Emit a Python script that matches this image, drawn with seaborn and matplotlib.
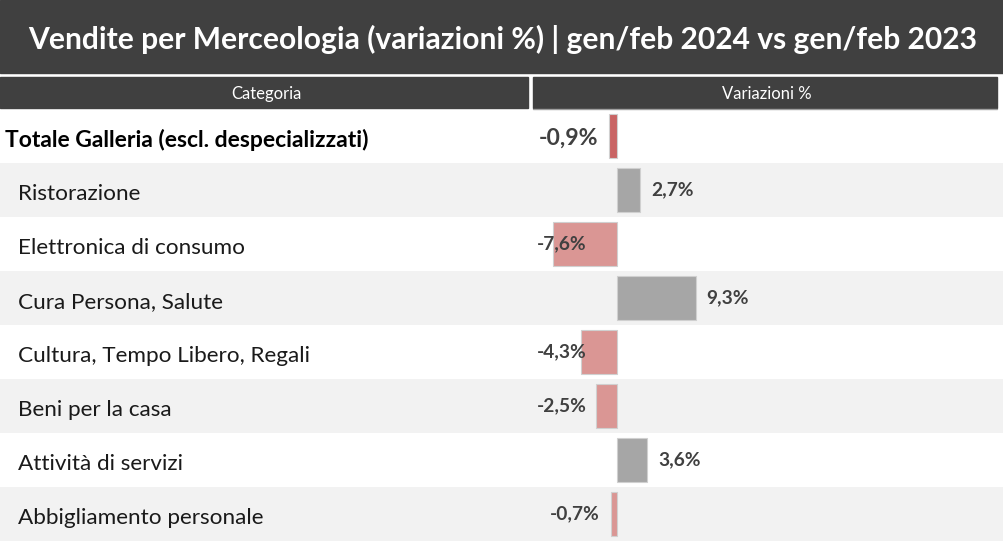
import pandas as pd
import numpy as np
import matplotlib.pyplot as plt
import seaborn as sns
from matplotlib.patches import Rectangle
from matplotlib.transforms import blended_transform_factory

# data
categorie = [
    "Totale Galleria (escl. despecializzati)",
    "Ristorazione",
    "Elettronica di consumo",
    "Cura Persona, Salute",
    "Cultura, Tempo Libero, Regali",
    "Beni per la casa",
    "Attività di servizi",
    "Abbigliamento personale",
]
variazioni = [-0.9, 2.7, -7.6, 9.3, -4.3, -2.5, 3.6, -0.7]
etichette = ["-0,9%", "2,7%", "-7,6%", "9,3%", "-4,3%", "-2,5%", "3,6%", "-0,7%"]

titolo = "Vendite per Merceologia (variazioni %) | gen/feb 2024 vs gen/feb 2023"
intestazioni = ["Categoria", "Variazioni %"]

DARK = "#404040"
ROW_GRAY = "#f2f2f2"
RED_TOT = "#c96464"
RED = "#da9694"
GRAY = "#a6a6a6"

sns.set_theme(style="white")
plt.rcParams["font.family"] = ["Lato", "DejaVu Sans"]

W, H = 1004, 541
fig = plt.figure(figsize=(W / 100, H / 100), dpi=100)
fig.patch.set_facecolor("white")

def px_rect(x0, y0, x1, y1, color):
    # rectangle given in pixel coords from the top left corner
    fig.patches.append(Rectangle((x0 / W, 1 - y1 / H), (x1 - x0) / W, (y1 - y0) / H,
                                 transform=fig.transFigure, color=color, zorder=0))

# title bar
px_rect(0, 0, W, 73, DARK)
fig.text(503 / W, 1 - 39 / H, titolo, color="white", fontsize=21.6,
         fontweight="bold", ha="center", va="center")

# header cells
px_rect(0, 77, 528, 108, DARK)
px_rect(533, 77, 997, 108, DARK)
fig.text(266 / W, 1 - 94 / H, intestazioni[0], color="white", fontsize=12,
         ha="center", va="center")
fig.text(767 / W, 1 - 94 / H, intestazioni[1], color="white", fontsize=12,
         ha="center", va="center")
fig.lines.append(plt.Line2D([533 / W, 997 / W], [1 - 108.5 / H, 1 - 108.5 / H],
                            transform=fig.transFigure, color="#a0a0a0", lw=1))

# table body
ax = fig.add_axes([0, 0, 1, 1 - 109 / H])
ax.patch.set_alpha(0)

df = pd.DataFrame({"categoria": categorie, "variazione": variazioni})
colori = {}
for i, (c, v) in enumerate(zip(categorie, variazioni)):
    if v >= 0:
        colori[c] = GRAY
    elif i == 0:
        colori[c] = RED_TOT
    else:
        colori[c] = RED

sns.barplot(data=df, x="variazione", y="categoria", hue="categoria",
            palette=colori, saturation=1, orient="h", width=0.83, legend=False,
            edgecolor="#d0d0d0", linewidth=0.8, ax=ax, zorder=3)

# zero at x=617 px, ~8.46 px per percentage point
scala = 8.46
zero_px = 617
ax.set_xlim(-zero_px / scala, (W - zero_px) / scala)
ax.set_ylim(len(categorie) - 0.5, -0.5)

for i in range(len(categorie)):
    if i % 2 == 1:
        ax.axhspan(i - 0.5, i + 0.5, color=ROW_GRAY, zorder=0, lw=0)

# category text sits a little low in its cell, like in the spreadsheet
tr = blended_transform_factory(ax.transAxes, ax.transData)
for i, c in enumerate(categorie):
    if i == 0:
        ax.text(5 / W, i + 0.07, c, transform=tr, fontsize=16.5, fontweight="bold",
                color="black", va="center", ha="left")
    else:
        ax.text(18 / W, i + 0.07, c, transform=tr, fontsize=16.2, color="#1a1a1a",
                va="center", ha="left")

for i, (v, lab) in enumerate(zip(variazioni, etichette)):
    size = 16.6 if i == 0 else 13.8
    dy = 0.05 if i == 0 else 0
    if v >= 0:
        ax.text(v + 1.3, i + dy, lab, fontsize=size, fontweight="bold", color=DARK,
                ha="left", va="center", zorder=4)
    else:
        ax.text(max(v - 1.3, -3.55), i + dy, lab, fontsize=size, fontweight="bold",
                color=DARK, ha="right", va="center", zorder=4)

ax.set_xlabel("")
ax.set_ylabel("")
ax.set_xticks([])
ax.set_yticks([])
for s in ax.spines.values():
    s.set_visible(False)

fig.savefig("out.png", dpi=100)
